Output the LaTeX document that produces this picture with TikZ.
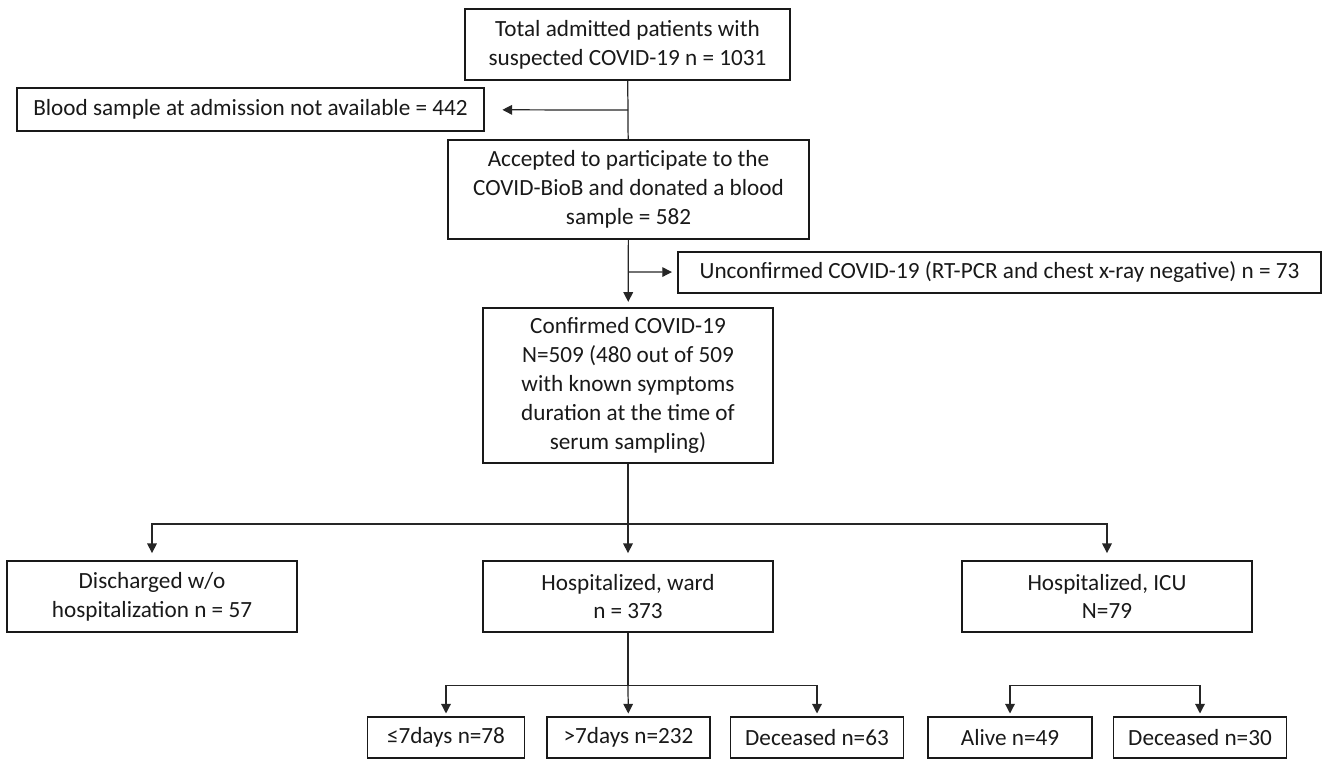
\documentclass[tikz,border=0pt]{standalone}
\usepackage{fontspec}
\setmainfont{Carlito}
\usepackage{tikz}
\usetikzlibrary{arrows.meta}
\usetikzlibrary{positioning}
\tikzset{
	box/.style={draw=black!90, line width=1pt, align=center, inner sep=0pt,
		text=black!90, font=\fontsize{13.2}{16.4}\selectfont},
	conn/.style={draw=black!85, line width=0.7pt},
	flow/.style={conn, -{Triangle[length=5.5pt,width=5.5pt]}, shorten >=1.5pt},
}

\begin{document}
\begin{tikzpicture}[x=0.02cm, y=-0.02cm]
	\useasboundingbox (0,0) rectangle (1329,760);
	% screening
	\node[box, minimum width=6.5cm, minimum height=1.42cm] (total) at (627.5,44.5)
		{Total admitted patients with\\suspected COVID-19 n = 1031};
	\node[box, minimum width=9.34cm, minimum height=0.86cm] (blood) at (250.5,109.5)
		{Blood sample at admission not available = 442};
	\node[box, minimum width=7.22cm, minimum height=1.98cm] (accepted) at (628.5,189.5)
		{Accepted to participate to the\\COVID-BioB and donated a blood\\sample = 582};
	\node[box, minimum width=12.86cm, minimum height=0.82cm] (unconf) at (999.5,272.5)
		{Unconfirmed COVID-19 (RT-PCR and chest x-ray negative) n = 73};
	\node[box, minimum width=5.8cm, minimum height=3.1cm] (conf) at (628,385.5)
		{Confirmed COVID-19\\N=509 (480 out of 509\\with known symptoms\\duration at the time of\\serum sampling)};
	% outcome
	\node[box, minimum width=5.8cm, minimum height=1.42cm] (disch) at (152,596.5)
		{Discharged w/o\\hospitalization n = 57};
	\node[box, minimum width=5.8cm, minimum height=1.42cm] (ward) at (628,596.5)
		{Hospitalized, ward\\n = 373};
	\node[box, minimum width=5.8cm, minimum height=1.42cm] (icu) at (1107,596.5)
		{Hospitalized, ICU\\N=79};
	% ward and icu split
	\node[box, minimum width=3.14cm, minimum height=0.82cm] (short) at (446,737.5)
		{≤7days n=78};
	\node[box, minimum width=3.26cm, minimum height=0.82cm] (long) at (628.5,737.5)
		{>7days n=232};
	\node[box, minimum width=3.46cm, minimum height=0.82cm] (wdead) at (817,737.5)
		{Deceased n=63};
	\node[box, minimum width=3.28cm, minimum height=0.82cm] (alive) at (1010,737.5)
		{Alive n=49};
	\node[box, minimum width=3.46cm, minimum height=0.82cm] (idead) at (1200,737.5)
		{Deceased n=30};

	\coordinate (bsplit) at (628,110);
	\coordinate (usplit) at (628,272);
	\coordinate (csplit) at (628,524);
	\coordinate (wsplit) at (628,685.5);
	\coordinate (isplit) at (1105,685.5);

	\draw[conn] (total) -- (accepted);
	\draw[flow, shorten >=10pt] (bsplit) -- (blood);
	\draw[flow, shorten >=3pt] (usplit) -- (unconf);
	\draw[flow, shorten >=3pt] (accepted) -- (conf);
	\draw[conn] (conf) -- (csplit);
	\draw[flow, shorten >=4pt] (csplit) -| (disch);
	\draw[flow, shorten >=4pt] (csplit) -- (ward);
	\draw[flow, shorten >=4pt] (csplit) -| (icu);
	\draw[conn] (ward) -- (wsplit);
	\draw[flow] (wsplit) -| (short);
	\draw[flow] (wsplit) -- (long);
	\draw[flow] (wsplit) -| (wdead);
	\draw[flow] (isplit) -| (alive);
	\draw[flow] (isplit) -| (idead);
\end{tikzpicture}
\end{document}
